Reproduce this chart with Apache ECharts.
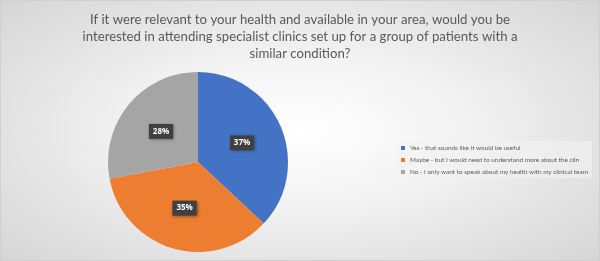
<!DOCTYPE html>
<html>
<head>
<meta charset="utf-8">
<script src="https://cdn.jsdelivr.net/npm/echarts@6/dist/echarts.min.js"></script>
<style>
html,body{margin:0;padding:0;}
#c{width:600px;height:261px;box-sizing:border-box;border:1px solid #d0d0d0;
background:radial-gradient(ellipse 70% 75% at 50% 50%, #ffffff 0%, #f2f2f2 40%, #d4d4d4 100%);}
</style>
</head>
<body>
<div id="c"></div>
<script>
const titleText = "If it were relevant to your health and available in your area, would you be\ninterested in attending specialist clinics set up for a group of patients with a\nsimilar condition?";
const categories = [
  "Yes - that sounds like it would be useful",
  "Maybe - but I would need to understand more about the clin",
  "No - I only want to speak about my health with my clinical team"
];
const values = [37, 35, 28];
const colors = ["#4472C4", "#ED7D31", "#A5A5A5"];

const chart = echarts.init(document.getElementById('c'), null, {renderer:'canvas'});
chart.setOption({
  animation:false,
  title:{
    text:titleText, left:'center', top:5,
    textStyle:{fontFamily:'Lato', fontSize:13.2, fontWeight:'normal', color:'#595959', lineHeight:17}
  },
  color:colors,
  legend:{
    orient:'vertical', left:395, top:140,
    backgroundColor:'rgba(242,242,242,0.6)',
    padding:[4,4,3,5],
    icon:'rect', itemWidth:4, itemHeight:4, itemGap:6, itemTextGap:3,
    textStyle:{fontFamily:'Lato', fontSize:6.4, color:'#595959'},
    data:categories
  },
  series:[{
    type:'pie',
    center:[197,161], radius:90,
    startAngle:90, clockwise:true,
    label:{
      position:'inside', formatter:'{d}%',
      color:'#ffffff', fontFamily:'Open Sans', fontSize:8, fontWeight:'bold',
      backgroundColor:'#404040', padding:[4,4,3,4],
      shadowColor:'rgba(0,0,0,0.4)', shadowBlur:3, shadowOffsetX:1, shadowOffsetY:1
    },
    labelLine:{show:false},
    itemStyle:{borderColor:'#ffffff', borderWidth:0},
    data:categories.map((c,i)=>({name:c, value:values[i]}))
  }]
});
</script>
</body>
</html>
